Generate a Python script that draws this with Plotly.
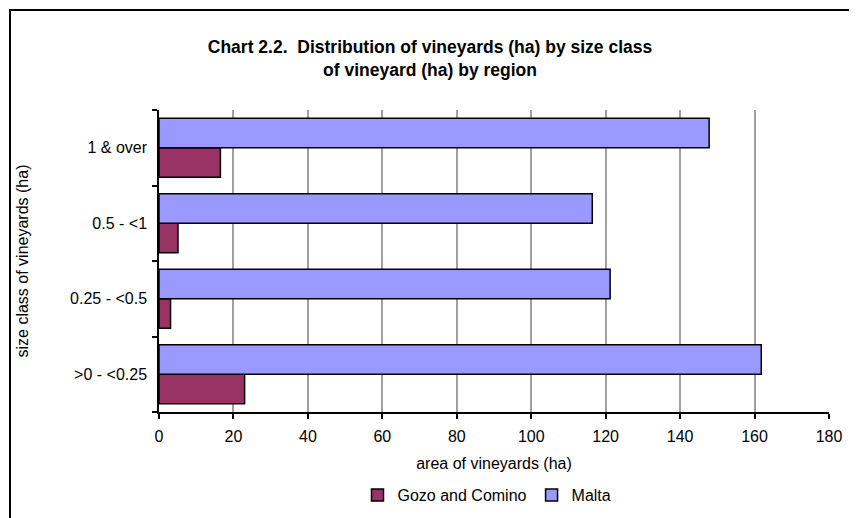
import plotly.graph_objects as go

categories = [">0 - <0.25", "0.25 - <0.5", "0.5 - <1", "1 & over"]
gozo_values = [23.0, 3.1, 5.1, 16.5]
malta_values = [161.8, 121.2, 116.4, 147.8]
x_ticks = [0, 20, 40, 60, 80, 100, 120, 140, 160, 180]

FONT = "Liberation Sans, Arial, sans-serif"
W, H = 857, 518
ML, MR, MT, MB = 151, 36, 102, 114
PW, PH = W - ML - MR, H - MT - MB

fig = go.Figure()
fig.add_trace(go.Bar(
    y=categories, x=gozo_values, orientation="h", name="Gozo and Comino",
    marker=dict(color="#993366", line=dict(color="#000000", width=1.5)),
))
fig.add_trace(go.Bar(
    y=categories, x=malta_values, orientation="h", name="Malta",
    marker=dict(color="#9999FF", line=dict(color="#000000", width=1.5)),
))

fig.update_layout(
    width=W, height=H,
    margin=dict(l=ML, r=MR, t=MT, b=MB, autoexpand=False),
    paper_bgcolor="white", plot_bgcolor="white",
    barmode="group", bargap=0.22, bargroupgap=0,
    font=dict(family=FONT, size=16, color="black"),
    title=dict(
        text="<b>Chart 2.2.\u00a0 Distribution of vineyards (ha) by size class<br>of vineyard (ha) by region</b>",
        x=422 / W, xref="container", xanchor="center",
        y=1 - 45 / H, yref="container", yanchor="top",
        font=dict(family=FONT, size=17.5, color="black"),
    ),
    showlegend=True,
    legend=dict(
        orientation="h", x=479 / W, xref="container", xanchor="center",
        y=1 - 487 / H, yref="container", yanchor="middle",
        font=dict(family=FONT, size=16), traceorder="normal",
        itemwidth=30, tracegroupgap=0,
    ),
    shapes=[dict(
        type="rect", xref="paper", yref="paper",
        x0=(2 - ML) / PW, x1=1.3, y0=-0.6, y1=(H - MB - 2) / PH,
        line=dict(color="black", width=2), fillcolor="rgba(0,0,0,0)",
        layer="below",
    )],
)

fig.update_xaxes(
    range=[0, 180], tickvals=x_ticks, ticktext=[str(v) for v in x_ticks],
    showgrid=True, gridcolor="#A0A0A0", gridwidth=1.5,
    showline=True, linecolor="black", linewidth=1.5,
    ticks="outside", ticklen=5, tickcolor="black", tickwidth=1.5,
    zeroline=False, automargin=False, ticklabelstandoff=4,
    title=dict(text="area of vineyards (ha)", standoff=14, font=dict(size=16)),
)
fig.update_yaxes(
    type="category", categoryorder="array", categoryarray=categories,
    showline=True, linecolor="black", linewidth=1.5,
    ticks="outside", ticklen=5, tickcolor="black", tickwidth=1.5,
    tickson="boundaries", showgrid=False, automargin=False,
    ticklabelstandoff=7,
    title=dict(text="size class of vineyards (ha)", standoff=37, font=dict(size=16)),
)

fig.write_html("out.html")
